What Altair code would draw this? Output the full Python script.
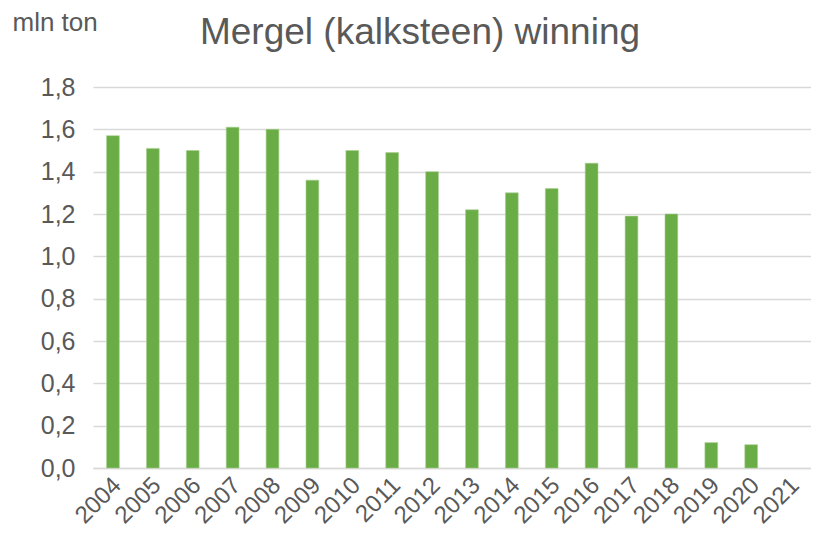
import altair as alt
import pandas as pd

years = ["2004", "2005", "2006", "2007", "2008", "2009", "2010", "2011", "2012",
         "2013", "2014", "2015", "2016", "2017", "2018", "2019", "2020", "2021"]
values = [1.57, 1.51, 1.50, 1.61, 1.60, 1.36, 1.50, 1.49, 1.40,
          1.22, 1.30, 1.32, 1.44, 1.19, 1.20, 0.12, 0.11, None]

df = pd.DataFrame({"jaar": years, "waarde": values})

FONT = "Liberation Sans"
GREY = "#595959"

chart = alt.Chart(df).mark_bar(color="#6AAC46", stroke="#A9D08E", strokeWidth=0.6).encode(
    x=alt.X("jaar:N", sort=years, title=None,
            scale=alt.Scale(paddingInner=0.68, paddingOuter=0.34),
            axis=alt.Axis(labelAngle=-45, labelAlign="right", labelBaseline="top",
                          labelFontSize=24, labelColor=GREY, labelFont=FONT,
                          ticks=False, domainColor="#D9D9D9", domainWidth=1.5,
                          labelPadding=5, labelOffset=-4, labelOverlap=False)),
    y=alt.Y("waarde:Q", title="mln ton",
            scale=alt.Scale(domain=[0, 1.8], nice=False),
            axis=alt.Axis(values=[0, 0.2, 0.4, 0.6, 0.8, 1.0, 1.2, 1.4, 1.6, 1.8],
                          labelExpr="replace(format(datum.value, '.1f'), '.', ',')",
                          labelFontSize=25, labelColor=GREY, labelFont=FONT,
                          ticks=False, domain=False, gridColor="#D9D9D9", gridWidth=1.5,
                          labelPadding=18,
                          titleAngle=0, titleX=-81, titleY=-57, titleAlign="left",
                          titleBaseline="alphabetic", titleFont=FONT, titleFontSize=26,
                          titleFontWeight="normal", titleColor=GREY)),
).properties(
    width=718,
    height=381,
    title=alt.TitleParams("Mergel (kalksteen) winning", font=FONT, fontSize=37,
                          fontWeight="normal", color=GREY, anchor="middle",
                          baseline="alphabetic", dx=-32, dy=76),
    autosize=alt.AutoSizeParams(type="none"),
    padding={"left": 85, "top": 79, "right": 0, "bottom": 62},
).configure_view(stroke=None)

chart.save("out.html", embed_options={"renderer": "svg", "actions": False})
